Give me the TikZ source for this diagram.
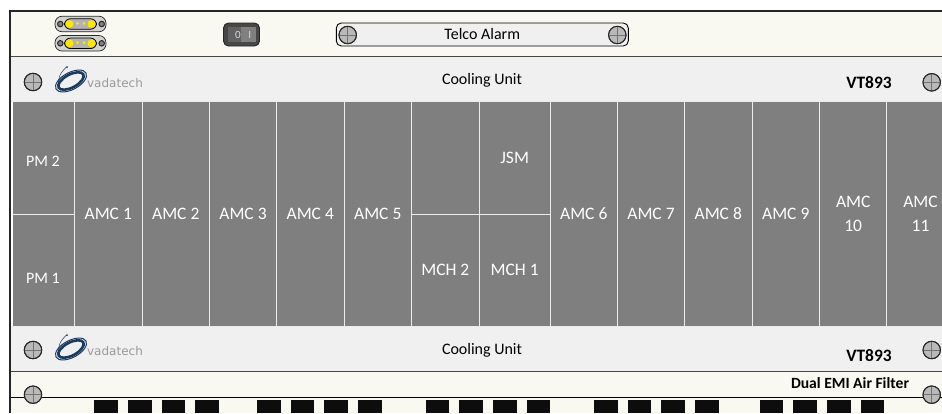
\documentclass[tikz,border=0pt]{standalone}
\usepackage{fontspec}
\setmainfont{Carlito}
\newfontfamily\logofont{DejaVu Sans}
\usetikzlibrary{positioning}
\definecolor{slotGray}{HTML}{7F7F7F}
\definecolor{panelCream}{HTML}{F9F9F1}
\definecolor{panelLight}{HTML}{F0F0F0}
\definecolor{frameDark}{HTML}{262626}
\definecolor{logoBlue}{HTML}{1B3A5F}
\newcommand{\screw}[3]{%
  \node[screwhead] (#1) at (#2,#3) {};
  \draw[gray!90!black, line width=0.8pt] (#1.west) -- (#1.east) (#1.north) -- (#1.south);
  \node[screwhead, fill=none] at (#1) {};
}
\newcommand{\dsub}[2]{%
  \node[dshell] (#1) at (80.5,#2) {};
  \node[dbody] (#1b) at (80.5,#2) {};
  \node[dhole] at (60.3,#2) {};
  \node[dhole] at (101.7,#2) {};
  \node[dpin] at (69.5,#2) {};
  \node[dpin] at (91.5,#2) {};
  \node[dpinsm] at (77.5,#2-0.7) {};
  \node[dpinsm] at (84,#2-0.7) {};
}
\newcommand{\vlogo}[2]{%
  \node[logotext] (#1) at (115,#2+2) {vadatech};
  \draw[logoBlue, line width=2.6pt, rotate around={28:(71,#2)}] (71,#2) ellipse (14 and 6.5);
  \draw[logoBlue, line width=1pt, rotate around={28:(71,#2)}] (71,#2) ellipse (17 and 8.5);
  \draw[logoBlue, line width=0.5pt] (66.5,#2-14) .. controls (60,#2-8) and (57,#2-2) .. (59,#2+6);
  \fill[logoBlue] (67,#2-14) circle (1);
}
\begin{document}
\begin{tikzpicture}[
    x=1pt, y=-1pt,
    font=\fontsize{16}{19}\selectfont,
    slot/.style={draw=none, fill=slotGray, text=white, inner sep=0pt, align=center, font=\fontsize{17.5}{24}\selectfont},
    halfslot/.style={slot, minimum height=111.5pt},
    pmlabel/.style={text=white, inner sep=0pt, font=\fontsize{16}{19}\selectfont},
    screwhead/.style={circle, draw=frameDark, fill=gray!55, line width=0.9pt, minimum size=17.5pt, inner sep=0pt},
    dshell/.style={rounded corners=7pt, draw=frameDark, fill=gray!35, line width=0.7pt, minimum width=51pt, minimum height=15.5pt, inner sep=0pt},
    dbody/.style={rounded corners=6pt, draw=black, fill=gray!60, line width=0.8pt, minimum width=32pt, minimum height=10.5pt, inner sep=0pt},
    dhole/.style={circle, draw=frameDark, fill=gray, line width=1pt, minimum size=5.5pt, inner sep=0pt},
    dpin/.style={circle, fill=yellow!90!orange, minimum size=8pt, inner sep=0pt},
    dpinsm/.style={circle, fill=yellow!90!orange, minimum size=3pt, inner sep=0pt},
    logotext/.style={font=\logofont\fontsize{12}{14}\selectfont, text=gray!80},
    vtlabel/.style={font=\fontsize{17.4}{20}\selectfont\bfseries},
    vent/.style={fill=black!95, draw=none}
  ]
    \useasboundingbox (0,0) rectangle (942,413);
    % panels
    \fill[panelCream] (10,12) rectangle (942,413);
    \fill[panelLight] (10,57) rectangle (942,371);
    \fill[white!85!gray] (10,101) rectangle (942,327);
    \fill[white] (11,102) rectangle (13,326);

    % slots, single width
    \foreach \name/\xa/\xb/\lbl in {a1/75/141.5/AMC 1, a2/142.5/209/AMC 2, a3/210/276/AMC 3, a4/277/343.5/AMC 4, a5/344.5/411/AMC 5, a6/550.5/617/AMC 6, a7/618/684/AMC 7, a8/685/751.5/AMC 8, a9/752.5/819/AMC 9}
      \node[slot, minimum width=\xb pt-\xa pt, minimum height=224pt] (\name) at ({(\xa+\xb)/2},214) {\lbl};
    \node[slot, minimum width=66.5pt, minimum height=224pt] (a10) at (853.2,214) {AMC\\10};
    \node[slot, minimum width=55pt, minimum height=224pt, text width=55pt] (a11) at (914.5,214) {\hspace*{12pt}AMC\\\hspace*{12pt}11};

    % split slots
    \node[halfslot, minimum width=61pt] (pm2) at (43.5,157.75) {};
    \node[halfslot, minimum width=61pt] (pm1) at (43.5,270.25) {};
    \node[pmlabel] (pm2t) at (43,161.5) {PM 2};
    \node[pmlabel] (pm1t) at (43,278) {PM 1};
    \node[halfslot, minimum width=67pt] (blank) at (445.3,157.75) {};
    \node[halfslot, minimum width=70pt] (jsm) at (514.7,157.75) {JSM};
    \node[halfslot, minimum width=67pt] (mch2) at (445.3,270.25) {MCH 2};
    \node[halfslot, minimum width=70pt] (mch1) at (514.7,270.25) {MCH 1};

    % panel lines
    \draw[frameDark!85, line width=1.2pt] (10,56.3) -- (942,56.3);
    \draw[frameDark!85, line width=1.2pt] (10,371.7) -- (942,371.7);
    \draw[black, line width=1pt] (10,397.5) -- (942,397.5);
    \draw[frameDark, line width=2.2pt] (942,11) -- (10,11) -- (10,413);

    % top row
    \dsub{dsuba}{24}
    \dsub{dsubb}{43.3}
    \draw[line width=0.9pt, draw=black!85, fill=black!72, rounded corners=5pt] (223.5,23) rectangle (259.5,46);
    \fill[black!62] (228,27) rectangle (241,42);
    \fill[gray] (241,27) rectangle (255.5,42);
    \node[text=white!85!black, font=\fontsize{11}{13}\selectfont] (sw0) at (238,34.5) {0};
    \node[text=white!85!black, font=\fontsize{11}{13}\selectfont] (sw1) at (249.7,34.5) {I};
    \node[draw=black, line width=0.9pt, fill=panelLight, rounded corners=5pt, minimum width=292pt, minimum height=23pt, inner sep=0pt] (telco) at (482.3,34.5) {Telco Alarm};
    \screw{st1}{347.7}{35}
    \screw{st2}{617.3}{35}

    % cooling units
    \screw{sc1}{33}{82}
    \screw{sc2}{931.7}{82.3}
    \screw{sc3}{33}{350}
    \screw{sc4}{931.7}{350}
    \vlogo{logoa}{81}
    \vlogo{logob}{349}
    \node (cool1) at (482,80) {Cooling Unit};
    \node (cool2) at (482,350) {Cooling Unit};
    \node[vtlabel] (vt1) at (869,82.5) {VT893};
    \node[vtlabel] (vt2) at (869,355.5) {VT893};

    % filter
    \node[font=\fontsize{15.6}{18}\selectfont\bfseries] (emi) at (850,383) {Dual EMI Air Filter};
    \screw{sf1}{33}{394.7}
    \screw{sf2}{931.7}{394.7}
    \foreach \vx in {94.3,128,161.7,195,257,290.7,324.3,358,425.5,459,493,526.7,594,627.5,661.3,695,759.7,793.3,827,860.7}
      \fill[vent] (\vx,399.5) rectangle ++(23.7,13);
  \end{tikzpicture}
\end{document}
